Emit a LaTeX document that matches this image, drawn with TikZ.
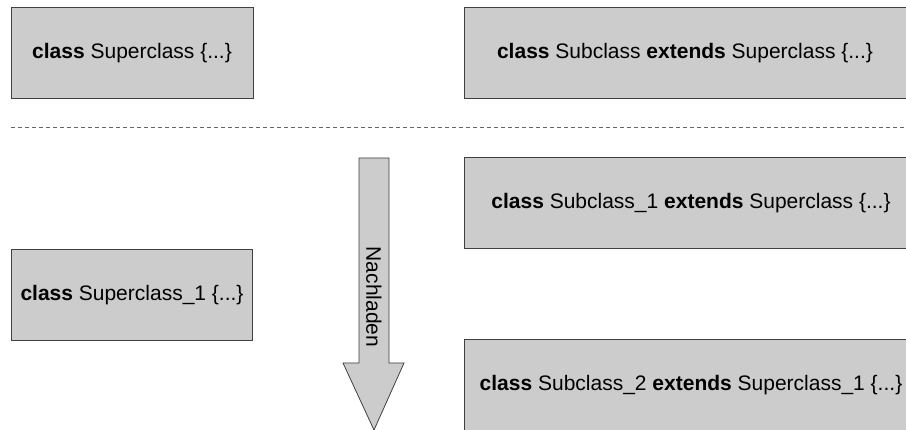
\documentclass[tikz,border=0pt]{standalone}
\usepackage{fontspec}
\setmainfont{Liberation Sans}
\begin{document}
\begin{tikzpicture}[x=1pt,y=-1pt,
    classbox/.style={draw=black!75,fill=black!20,line width=0.8pt,inner sep=0pt,
      minimum height=91pt,font=\fontsize{21}{25}\selectfont}]
        % page frame
        \useasboundingbox (0,0) rectangle (906,430);
        \clip (0,0) rectangle (906,430);
        % before the reload
        \node[classbox,minimum width=242pt] (super) at (132,53) {\textbf{class} Superclass \{...\}};
        \node[classbox,minimum width=442pt] (sub) at (685,53) {\textbf{class} Subclass \textbf{extends} Superclass \{...\}};
        % the dashed separator
        \draw[black!60,line width=0.8pt,dash pattern=on 4pt off 3pt] (11,127) -- (906,127);
        % after the reload
        \node[classbox,minimum width=454pt] (subone) at (691,203) {\textbf{class} Subclass\_1 \textbf{extends} Superclass \{...\}};
        \node[classbox,minimum width=241pt] (superone) at (132,295) {\textbf{class} Superclass\_1 \{...\}};
        \node[classbox,minimum width=454pt] (subtwo) at (691,385) {\textbf{class} Subclass\_2 \textbf{extends} Superclass\_1 \{...\}};
        % the ``Nachladen'' arrow
        \draw[draw=black!75,fill=black!20,line width=0.8pt] (359,158) -- (389,158) -- (389,363) -- (404,363)
            -- (374,430) -- (343,363) -- (359,363) -- cycle;
        \node[rotate=-90,font=\fontsize{21}{25}\selectfont] (reload) at (374,297) {Nachladen};
    \end{tikzpicture}
\end{document}
